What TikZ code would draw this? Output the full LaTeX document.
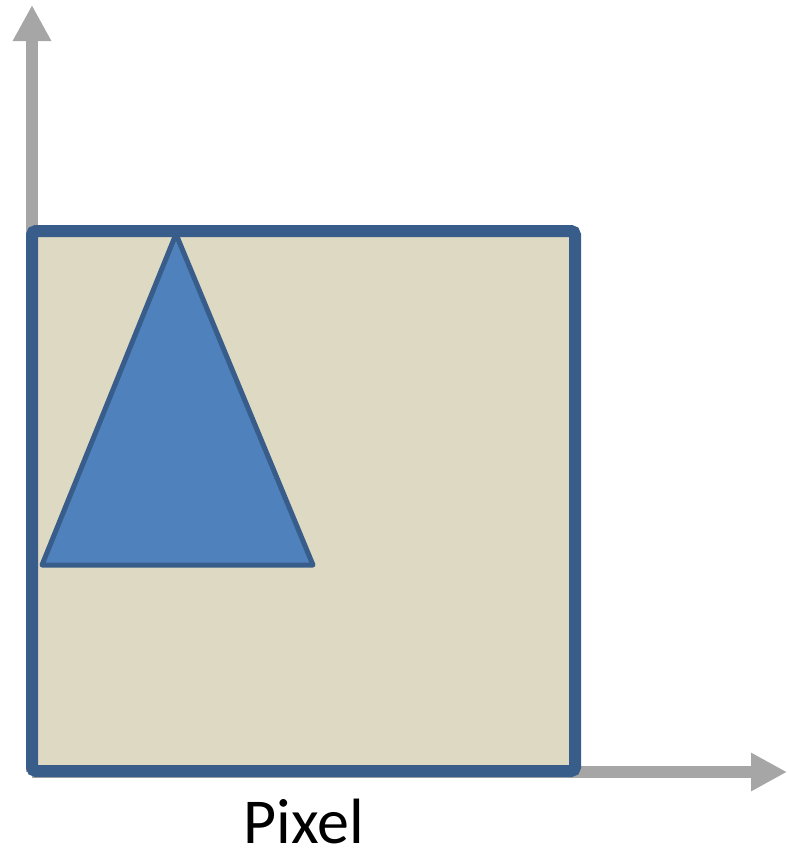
\documentclass[tikz,border=0pt]{standalone}
\usepackage{fontspec}
\setmainfont{Carlito}
\usetikzlibrary{arrows.meta}

\definecolor{axisgray}{HTML}{A6A6A6}
\definecolor{pixelfill}{HTML}{DDD9C3}
\definecolor{edgeblue}{HTML}{385D8A}
\definecolor{shapeblue}{HTML}{4F81BD}

\begin{document}
\begin{tikzpicture}[x=0.5pt, y=-0.5pt,
    axis/.style={line width=6pt, axisgray, -{Triangle[length=18pt, width=18pt]}},
    pixelbox/.style={line width=6pt, draw=edgeblue, fill=pixelfill, rounded corners=2pt},
    prim/.style={line width=2.5pt, draw=edgeblue, fill=shapeblue, line join=round}]
  \useasboundingbox (0,0) rectangle (787,848);

  % Axes, starting at the origin behind the pixel
  \coordinate (origin) at (32,772);
  \coordinate (ytip) at (32,5);
  \coordinate (xtip) at (787,772);
  \draw[axis] (origin) -- (ytip);
  \draw[axis] (origin) -- (xtip);

  % The pixel
  \draw[pixelbox] (32,231) rectangle (575,771);

  % Triangle covering part of the pixel
  \coordinate (apex) at (176,234);
  \coordinate (left) at (42,565);
  \coordinate (right) at (313,565);
  \draw[prim] (apex) -- (right) -- (left) -- cycle;

  % Caption
  \node[font=\fontsize{32}{38}\selectfont, inner sep=0pt] (caption) at (304,821) {Pixel};
\end{tikzpicture}
\end{document}
